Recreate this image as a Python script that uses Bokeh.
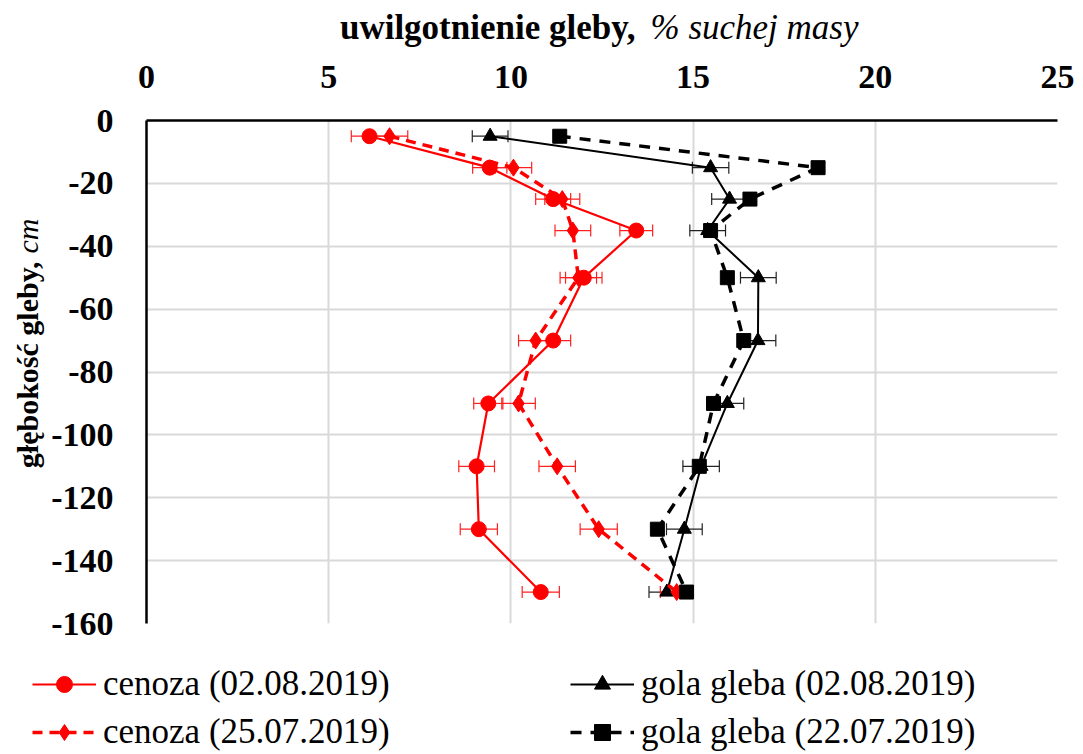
from bokeh.plotting import figure
from bokeh.models import (ColumnDataSource, Whisker, TeeHead, Label, Legend,
                          LegendItem, FixedTicker)
from bokeh.layouts import column, row
from bokeh.embed import file_html
from bokeh.resources import INLINE

# ---- data ----
depth = [-5, -15, -25, -35, -50, -70, -90, -110, -130, -150]

cenoza_0208 = [6.12, 9.42, 11.16, 13.44, 12.0, 11.16, 9.38, 9.06, 9.12, 10.82]
cenoza_0208_err = [0.5, 0.47, 0.48, 0.45, 0.5, 0.48, 0.4, 0.49, 0.51, 0.51]

cenoza_2507 = [6.67, 10.07, 11.41, 11.7, 11.85, 10.68, 10.21, 11.27, 12.41, 14.55]
cenoza_2507_err = [0.5, 0.5, 0.48, 0.49, 0.5, 0.47, 0.46, 0.5, 0.51, 0.45]

gola_0208 = [9.43, 15.48, 16.0, 15.4, 16.79, 16.78, 15.94, 15.22, 14.76, 14.28]
gola_0208_err = [0.49, 0.5, 0.49, 0.49, 0.49, 0.49, 0.45, 0.5, 0.49, 0.49]

gola_2207 = [11.34, 18.43, 16.56, 15.48, 15.94, 16.39, 15.56, 15.17, 14.02, 14.82]

x_ticks = [0, 5, 10, 15, 20, 25]
y_ticks = [0, -20, -40, -60, -80, -100, -120, -140, -160]

labels = ["cenoza (02.08.2019)", "gola gleba (02.08.2019)",
          "cenoza (25.07.2019)", "gola gleba (22.07.2019)"]

x_title = ["uwilgotnienie gleby,", "% suchej masy"]
y_title = ["głębokość gleby,", "cm"]

SERIF = "Liberation Serif"
TOTAL_W = 1083
TOP_H = 50
LEFT_W = 48
MAIN_H = 595
LEG_H = 754 - TOP_H - MAIN_H

styles = [
    dict(color="red", width=2.2, dash="solid", marker="circle", size=15, err="#ff2020"),
    dict(color="black", width=2.0, dash="solid", marker="triangle", size=14, err="#222222"),
    dict(color="red", width=3.5, dash="10 7", marker="diamond", size=17, err="#ff2020"),
    dict(color="black", width=3.5, dash="11 9", marker="square", size=14, err=None),
]
series_x = [cenoza_0208, gola_0208, cenoza_2507, gola_2207]
series_err = [cenoza_0208_err, gola_0208_err, cenoza_2507_err, None]

# ---- main chart ----
p = figure(width=TOTAL_W - LEFT_W, height=MAIN_H,
           x_range=(0, 25), y_range=(-160, 0),
           x_axis_location="above", output_backend="svg", toolbar_location=None,
           min_border_top=70, min_border_left=145 - LEFT_W, min_border_right=26,
           min_border_bottom=22)
p.outline_line_color = None

for ax in (p.xaxis[0], p.yaxis[0]):
    ax.major_tick_line_color = None
    ax.minor_tick_line_color = None
    ax.axis_line_color = "black"
    ax.axis_line_width = 2.5
    ax.major_label_text_font = SERIF
    ax.major_label_text_font_style = "bold"
    ax.major_label_text_font_size = "34px"
    ax.major_label_text_color = "black"
p.xaxis[0].ticker = FixedTicker(ticks=x_ticks)
p.yaxis[0].ticker = FixedTicker(ticks=y_ticks)
p.yaxis[0].major_label_overrides = {t: str(t) for t in y_ticks}
p.xaxis[0].major_label_standoff = 27
p.yaxis[0].major_label_standoff = 27

p.xgrid.ticker = FixedTicker(ticks=x_ticks)
p.ygrid.ticker = FixedTicker(ticks=y_ticks)
p.grid.grid_line_color = "#d9d9d9"
p.grid.grid_line_width = 2


def draw_series(fig, xs, errs, st, with_err=True):
    if with_err and errs is not None:
        src = ColumnDataSource(dict(y=depth,
                                    lo=[a - b for a, b in zip(xs, errs)],
                                    hi=[a + b for a, b in zip(xs, errs)]))
        c = st["err"]
        fig.add_layout(Whisker(source=src, base="y", lower="lo", upper="hi",
                               dimension="width", line_color=c, line_width=1.2,
                               upper_head=TeeHead(size=12, line_color=c, line_width=1.2),
                               lower_head=TeeHead(size=12, line_color=c, line_width=1.2)))
    ln = fig.line(xs, depth, line_color=st["color"], line_width=st["width"],
                  line_dash=st["dash"])
    mk = fig.scatter(xs, depth, marker=st["marker"], size=st["size"],
                     fill_color=st["color"], line_color=st["color"])
    return ln, mk


for xs, errs, st in zip(series_x, series_err, styles):
    draw_series(p, xs, errs, st)

# ---- legend strip (its own frame, so the legend is not clipped) ----
leg = figure(width=TOTAL_W, height=LEG_H, x_range=(0, 1), y_range=(0, 1),
             x_axis_type=None, y_axis_type=None, min_border=0,
             output_backend="svg", toolbar_location=None)
leg.outline_line_color = None
leg.grid.visible = False
# same series, outside this strip's ranges: only used as legend samples
proxies = [draw_series(leg, xs, errs, st, with_err=False)
           for xs, errs, st in zip(series_x, series_err, styles)]

common = dict(label_text_font=SERIF, label_text_font_size="35px",
              label_text_color="black", glyph_width=64, glyph_height=40,
              label_height=40, label_standoff=7, spacing=8, padding=0,
              margin=0, border_line_color=None, background_fill_alpha=0)
leg.add_layout(Legend(items=[LegendItem(label=labels[0], renderers=list(proxies[0])),
                             LegendItem(label=labels[2], renderers=list(proxies[2]))],
                      location=(32, 2), **common))
leg.add_layout(Legend(items=[LegendItem(label=labels[1], renderers=list(proxies[1])),
                             LegendItem(label=labels[3], renderers=list(proxies[3]))],
                      location=(570, 2), **common))

# ---- top strip: x-axis title with mixed styles ----
top = figure(width=TOTAL_W, height=TOP_H, x_range=(0, 1), y_range=(0, 1),
             x_axis_type=None, y_axis_type=None, min_border=0,
             output_backend="svg", toolbar_location=None)
top.outline_line_color = None
top.grid.visible = False
top.add_layout(Label(x=635, y=23, x_units="screen", y_units="screen",
                     text=x_title[0], text_font=SERIF, text_font_style="bold",
                     text_font_size="35px", text_align="right",
                     text_baseline="alphabetic", text_color="black"))
top.add_layout(Label(x=650, y=23, x_units="screen", y_units="screen",
                     text=x_title[1], text_font=SERIF, text_font_style="italic",
                     text_font_size="35px", text_align="left",
                     text_baseline="alphabetic", text_color="black"))

# ---- left strip: y-axis title with mixed styles ----
left = figure(width=LEFT_W, height=MAIN_H, x_range=(0, 1), y_range=(0, 1),
              x_axis_type=None, y_axis_type=None, min_border=0,
              output_backend="svg", toolbar_location=None)
left.outline_line_color = None
left.grid.visible = False
left.add_layout(Label(x=27, y=362, x_units="screen", y_units="screen",
                      text=y_title[0], text_font=SERIF, angle=1.5708,
                      text_font_style="bold", text_font_size="30px",
                      text_align="right", text_baseline="middle",
                      text_color="black"))
left.add_layout(Label(x=27, y=370, x_units="screen", y_units="screen",
                      text=y_title[1], text_font=SERIF, angle=1.5708,
                      text_font_style="italic", text_font_size="30px",
                      text_align="left", text_baseline="middle",
                      text_color="black"))

layout = column(top, row(left, p), leg)
open("out.html", "w").write(file_html(layout, INLINE))
